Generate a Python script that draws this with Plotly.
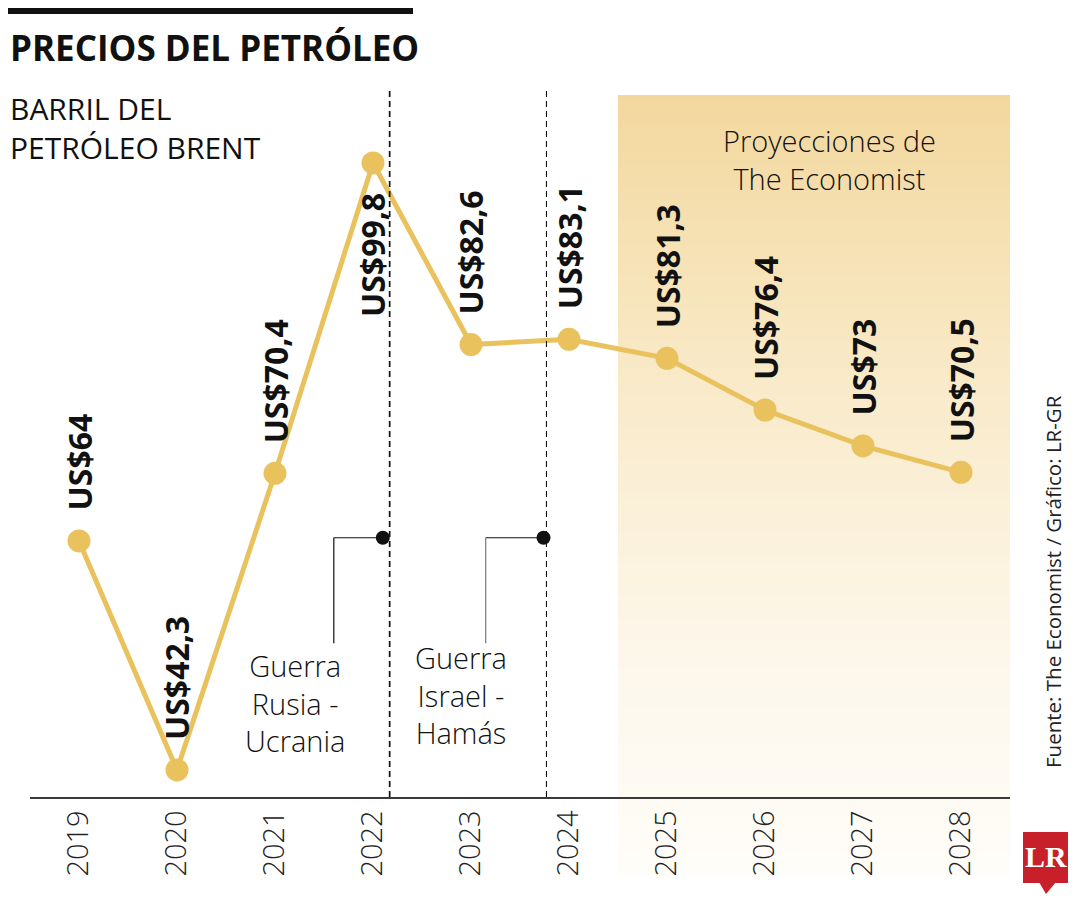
import plotly.graph_objects as go

# ---------------- data ----------------
years = [2019, 2020, 2021, 2022, 2023, 2024, 2025, 2026, 2027, 2028]
prices = [64, 42.3, 70.4, 99.8, 82.6, 83.1, 81.3, 76.4, 73, 70.5]
price_labels = ["US$64", "US$42,3", "US$70,4", "US$99,8", "US$82,6",
                "US$83,1", "US$81,3", "US$76,4", "US$73", "US$70,5"]
label_below = [False, False, False, True, False, False, False, False, False, False]
tick_labels = [str(y) for y in years]

event_names = ["Guerra<br>Rusia -<br>Ucrania", "Guerra<br>Israel -<br>Hamás"]
event_line_x = [2022.17, 2023.77]
event_dot_x = [2022.10, 2023.74]
event_stub_x = [2021.60, 2023.15]
event_text_x = [2021.20, 2022.90]
event_text_y = [48.65, 49.4]
event_dot_y = 64.3
event_stub_y = 54.3
projection_start = 2024.5
projection_label = "Proyecciones de<br>The Economist"

# ---------------- layout geometry (page pixels) ----------------
PAGE_W, PAGE_H = 1080, 900
OFF = 8  # body margin of the page
PLOT_L, PLOT_R, PLOT_T, PLOT_B = 30, 1010, 95, 797
X_RANGE = [2018.5, 2028.5]
Y_RANGE = [39.74, 106.24]
PW = PLOT_R - PLOT_L
PH = PLOT_B - PLOT_T


def px(xp):
    return (xp - PLOT_L) / PW


def py(yp):
    return (PLOT_B - yp) / PH


def xdata_to_paper(v):
    return (v - X_RANGE[0]) / (X_RANGE[1] - X_RANGE[0])


GOLD = "#E9C25E"
FONT = "Open Sans"

fig = go.Figure()

fig.add_trace(go.Scatter(
    x=years, y=prices, mode="lines+markers",
    line=dict(color=GOLD, width=5),
    marker=dict(color=GOLD, size=23),
    hoverinfo="skip", showlegend=False, cliponaxis=False,
))

shapes = []

# gradient projection area
stops = [(95, (243, 216, 158)), (400, (249, 235, 203)), (650, (253, 247, 234)), (875, (255, 253, 249))]


def color_at(yp):
    for (y0, c0), (y1, c1) in zip(stops[:-1], stops[1:]):
        if y0 <= yp <= y1:
            t = (yp - y0) / (y1 - y0)
            return "rgb(%d,%d,%d)" % tuple(round(a + (b - a) * t) for a, b in zip(c0, c1))
    return "rgb(%d,%d,%d)" % stops[-1][1]


N = 120
top, bot = 95, 875
step = (bot - top) / N
for i in range(N):
    y0 = top + i * step
    y1 = y0 + step + 0.6
    shapes.append(dict(type="rect", xref="paper", yref="paper",
                       x0=xdata_to_paper(projection_start), x1=1.0,
                       y0=py(min(y1, bot)), y1=py(y0),
                       fillcolor=color_at(y0 + step / 2), line=dict(width=0),
                       layer="below"))

# event dashed lines
for i, ex in enumerate(event_line_x):
    shapes.append(dict(type="line", xref="x", yref="paper", x0=ex, x1=ex,
                       y0=0, y1=py(88),
                       line=dict(color="#111111", width=1.7 if i == 0 else 1.1, dash="6px,4px"),
                       layer="above"))

# connectors
for i in range(2):
    col = "#111111" if i == 0 else "#777777"
    shapes.append(dict(type="line", xref="x", yref="y", x0=event_dot_x[i], x1=event_stub_x[i],
                       y0=event_dot_y, y1=event_dot_y, line=dict(color="#111111", width=1.2)))
    shapes.append(dict(type="line", xref="x", yref="y", x0=event_stub_x[i], x1=event_stub_x[i],
                       y0=event_dot_y, y1=event_stub_y, line=dict(color=col, width=1.2)))

# top black bar
shapes.append(dict(type="rect", xref="paper", yref="paper", x0=px(8), x1=px(413),
                   y0=py(14), y1=py(8), fillcolor="#111111", line=dict(width=0)))

# LR logo
lx0, lx1, ly0, ly1 = px(1023), px(1068), py(883), py(832)
shapes.append(dict(type="rect", xref="paper", yref="paper", x0=lx0, x1=lx1, y0=ly0, y1=ly1,
                   fillcolor="#C8202B", line=dict(width=0)))
shapes.append(dict(type="path", xref="paper", yref="paper",
                   path="M %f %f L %f %f L %f %f Z" % (px(1039), py(882), px(1056), py(882), px(1046), py(894)),
                   fillcolor="#C8202B", line=dict(width=0)))

annotations = []

# event dots
fig.add_trace(go.Scatter(x=event_dot_x, y=[event_dot_y] * 2, mode="markers",
                         marker=dict(color="#111111", size=14), hoverinfo="skip",
                         showlegend=False))

# value labels
for yr, pr, lab, below in zip(years, prices, price_labels, label_below):
    annotations.append(dict(x=yr, y=pr, xref="x", yref="y", text="<b>%s</b>" % lab,
                            showarrow=False, textangle=-90,
                            xanchor="center", yanchor="top" if below else "bottom",
                            yshift=-28 if below else 28,
                            font=dict(family=FONT, size=32, color="#111111")))

# event texts
for name, tx, ty in zip(event_names, event_text_x, event_text_y):
    annotations.append(dict(x=tx, y=ty, xref="x", yref="y", text=name, showarrow=False,
                            xanchor="center", yanchor="middle", align="center",
                            font=dict(family=FONT, size=29, color="#111111", weight=300)))

# projection label
annotations.append(dict(x=2026.66, y=py(159), xref="x", yref="paper", text=projection_label,
                        showarrow=False, xanchor="center", yanchor="middle", align="center",
                        font=dict(family=FONT, size=29, color="#111111", weight=300)))

# title & subtitle
annotations.append(dict(x=px(8), y=py(47), xref="paper", yref="paper",
                        text="<b>PRECIOS DEL PETRÓLEO</b>", showarrow=False,
                        xanchor="left", yanchor="middle",
                        font=dict(family=FONT, size=35, color="#111111")))
annotations.append(dict(x=px(8), y=py(128), xref="paper", yref="paper",
                        text="BARRIL DEL<br>PETRÓLEO BRENT", showarrow=False,
                        xanchor="left", yanchor="middle", align="left",
                        font=dict(family=FONT, size=30, color="#111111")))

# source
annotations.append(dict(x=px(1053), y=py(582), xref="paper", yref="paper",
                        text="Fuente: The Economist / Gráfico: LR-GR", showarrow=False,
                        textangle=-90, xanchor="center", yanchor="middle",
                        font=dict(family=FONT, size=20.5, color="#222222")))

# LR text
annotations.append(dict(x=px(1045.5), y=py(857), xref="paper", yref="paper",
                        text="<b>LR</b>", showarrow=False, xanchor="center", yanchor="middle",
                        font=dict(family="Liberation Serif", size=30, color="white")))

fig.update_layout(
    width=PAGE_W - OFF, height=PAGE_H - OFF,
    margin=dict(l=PLOT_L - OFF, r=PAGE_W - PLOT_R, t=PLOT_T - OFF, b=PAGE_H - PLOT_B, pad=0),
    paper_bgcolor="white", plot_bgcolor="rgba(0,0,0,0)",
    shapes=shapes, annotations=annotations,
    showlegend=False,
    xaxis=dict(range=X_RANGE, tickvals=years, ticktext=tick_labels, tickangle=-90,
               showgrid=False, zeroline=False, showline=True, linecolor="#3a3a3a",
               linewidth=1.5, ticks="", fixedrange=True,
               tickfont=dict(family=FONT, size=29, color="#222222", weight=300)),
    yaxis=dict(range=Y_RANGE, visible=False, showgrid=False, zeroline=False, fixedrange=True),
)

fig.write_html("out.html")
